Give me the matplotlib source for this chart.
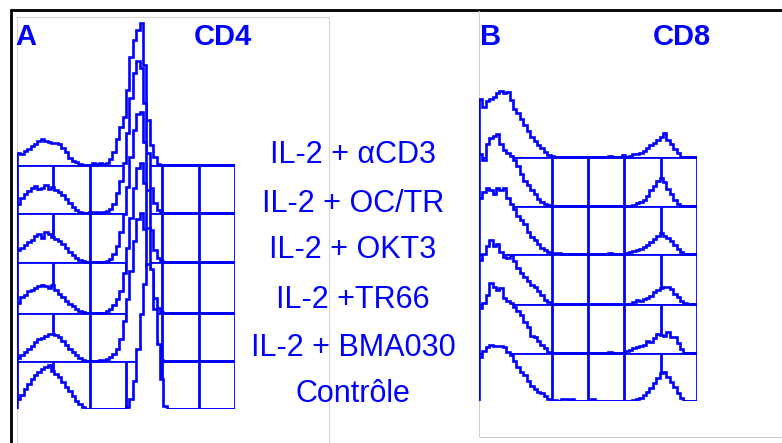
import matplotlib
matplotlib.use("Agg")
import matplotlib.pyplot as plt
import numpy as np

W, H, DPI = 782, 443, 100
BLUE = "#0000ff"
plt.rcParams['font.family'] = ['Liberation Sans', 'DejaVu Sans']

# ---------------- data ----------------
labels = ["IL-2 + αCD3", "IL-2 + OC/TR", "IL-2 + OKT3",
          "IL-2 +TR66", "IL-2 + BMA030", "Contrôle"]

# CD4 histograms (64 channels, counts)
cd4_acd3 = [12, 11, 14, 16, 19, 21, 24, 26, 24, 23, 22, 22, 21, 17, 13, 7, 4, 3, 1, 0, 0, 0, 2, 1, 2, 1, 2,
            6, 13, 26, 38, 48, 75, 108, 125, 135, 142, 100, 45, 20, 8, 1] + [0] * 22
cd4_octr = [9, 15, 19, 22, 25, 27, 24, 25, 28, 24, 26, 23, 21, 18, 14, 10, 6, 3, 1, 0, 0, 1, 0, 1, 0, 1, 2,
            4, 9, 20, 32, 50, 80, 115, 140, 152, 145, 110, 60, 25, 10, 3, 0] + [0] * 21
cd4_okt3 = [12, 14, 17, 20, 22, 26, 28, 24, 30, 28, 25, 23, 21, 18, 14, 10, 7, 4, 2, 1, 0, 0, 0, 0, 0, 0, 1,
            3, 8, 16, 30, 48, 75, 105, 132, 148, 150, 120, 72, 32, 12, 4, 1] + [0] * 21
cd4_tr66 = [10, 16, 18, 22, 23, 25, 27, 28, 27, 25, 28, 23, 19, 16, 12, 9, 7, 4, 2, 1, 0, 0, 0, 0, 0, 0, 2,
            4, 8, 14, 22, 40, 65, 95, 125, 145, 150, 130, 85, 40, 15, 5, 1] + [0] * 21
cd4_bma030 = [3, 6, 9, 12, 15, 19, 22, 23, 25, 27, 27, 26, 24, 20, 16, 12, 9, 6, 3, 1, 0, 0, 0, 0, 1, 1, 2,
              4, 7, 12, 22, 40, 62, 90, 120, 142, 148, 132, 95, 50, 20, 6, 1] + [0] * 21
cd4_controle = [10, 14, 20, 25, 30, 34, 37, 40, 42, 44, 38, 35, 32, 27, 22, 18, 13, 8, 5, 2,
                0, 0, 0, 0, 0, 0, 0, 0, 0, 0, 0, 0,
                2, 10, 28, 60, 95, 125, 145, 140, 100, 65, 30, 3] + [0] * 20

# CD8 histograms (64 channels, counts)
cd8_acd3 = ([58, 50, 56, 58, 60, 64, 66, 64, 65, 57, 48, 44, 38, 32, 26, 20, 16, 12, 9, 5, 2, 1] + [0] * 16 +
            [1, 0, 0, 0, 2, 0, 1, 3, 3, 4, 6, 9, 12, 14, 17, 20, 24, 17, 13, 8, 4] + [0] * 5)
cd8_octr = ([52, 46, 62, 68, 70, 72, 62, 56, 53, 50, 46, 40, 32, 25, 21, 16, 12, 7, 4, 2, 1] + [0] * 24 +
            [1, 3, 4, 6, 10, 16, 20, 25, 28, 24, 17, 12, 6, 2] + [0] * 5)
cd8_okt3 = ([56, 62, 66, 64, 60, 66, 64, 66, 56, 50, 45, 38, 34, 30, 22, 17, 14, 10, 6, 4, 2, 1, 1, 1] + [0] * 14 +
            [1, 0, 0, 0, 0, 1, 2, 3, 4, 5, 7, 9, 12, 15, 18, 21, 18, 16, 13, 9, 5, 2] + [0] * 4)
cd8_tr66 = ([44, 50, 58, 64, 58, 60, 52, 47, 46, 49, 43, 36, 31, 27, 23, 19, 17, 13, 9, 4, 2] + [0] * 24 +
            [2, 4, 3, 5, 6, 8, 12, 14, 16, 17, 17, 15, 10, 7, 3, 1] + [0] * 3)
cd8_bma030 = ([45, 50, 58, 70, 66, 63, 65, 55, 52, 50, 46, 42, 38, 31, 26, 17, 16, 12, 8, 5, 1] + [0] * 17 +
              [1, 0, 0, 0, 0, 2, 3, 5, 6, 7, 8, 12, 11, 15, 19, 18, 17, 21, 16, 16, 10, 4] + [0] * 4)
cd8_controle = ([44, 50, 54, 56, 55, 55, 55, 54, 49, 46, 40, 34, 29, 26, 20, 15, 12, 9, 8, 5, 2, 1, 1, 0,
                 2, 2, 1, 2, 0, 0, 0, 0, 0, 2] + [0] * 11 +
                [1, 2, 3, 6, 9, 13, 18, 23, 28, 29, 24, 19, 14, 8, 3] + [0] * 4)

cd4_hists = [cd4_acd3, cd4_octr, cd4_okt3, cd4_tr66, cd4_bma030, cd4_controle]
cd8_hists = [cd8_acd3, cd8_octr, cd8_okt3, cd8_tr66, cd8_bma030, cd8_controle]

# ---------------- layout ----------------
fig = plt.figure(figsize=(W / DPI, H / DPI), dpi=DPI)
bg = fig.add_axes([0, 0, 1, 1])
bg.set_xlim(0, W)
bg.set_ylim(H, 0)
bg.axis('off')

# black frame
bg.plot([10, W], [9.5, 9.5], color='black', lw=2.0, solid_capstyle='butt')
bg.plot([11, 11], [9, H], color='black', lw=2.0, solid_capstyle='butt')
# light gray panel boxes
bg.plot([16.5, 16.5, 329, 329], [H, 17, 17, H], color='#d4d4d4', lw=0.8)
bg.plot([478.5, 478.5, W], [10.5, 437, 437], color='#cfcfcf', lw=0.8)

GRID_LW = 2.0
HIST_LW = 1.9


def panel(left_px, base_px, hists, offsets, cols):
    width_px = 218
    top_px = 10
    ax = fig.add_axes([left_px / W, (H - base_px) / H, width_px / W, (base_px - top_px) / H])
    ax.set_xlim(0, 64)
    ax.set_ylim(0, base_px - top_px)
    ax.axis('off')
    nb = len(hists[0])
    edges = np.arange(nb + 1)
    # grid
    ytop = max(offsets)
    for off in offsets:
        ax.plot([0, nb], [off, off], color=BLUE, lw=GRID_LW, zorder=1, solid_capstyle='projecting')
    for c in cols:
        ax.plot([c, c], [0, ytop], color=BLUE, lw=GRID_LW, zorder=1, solid_capstyle='projecting')
    for i, (h, off) in enumerate(zip(hists, offsets)):
        vals = np.asarray(h, dtype=float) + off
        ax.stairs(vals, edges, baseline=off, fill=True, color='white', zorder=2 + 2 * i)
        ax.stairs(vals, edges, baseline=off, fill=False, color=BLUE, lw=HIST_LW, zorder=3 + 2 * i)
    return ax


offsets_a = [244, 196, 147, 96, 48, 0]
offsets_b = [244, 195, 147, 97, 48, 0]
cols_a = [0, 64 / 6, 2 * 64 / 6, 3 * 64 / 6, 4 * 64 / 6, 5 * 64 / 6, 64]
cols_b = [0, 2 * 64 / 6, 3 * 64 / 6, 4 * 64 / 6, 5 * 64 / 6, 64]

panel(17, 409, cd4_hists, offsets_a, cols_a)
panel(479, 401, cd8_hists, offsets_b, cols_b)

# ---------------- text ----------------
bold = dict(color=BLUE, fontsize=21, fontweight='bold', va='baseline', ha='left')
bg.text(15, 45, "A", **bold)
bg.text(194, 45, "CD4", **bold)
bg.text(480, 45, "B", **bold)
bg.text(653, 45, "CD8", **bold)

label_baselines = [163, 211.5, 258, 308, 356, 402]
for lab, yb in zip(labels, label_baselines):
    bg.text(353, yb, lab, color=BLUE, fontsize=22, va='baseline', ha='center')

fig.savefig("out.png", dpi=DPI)
